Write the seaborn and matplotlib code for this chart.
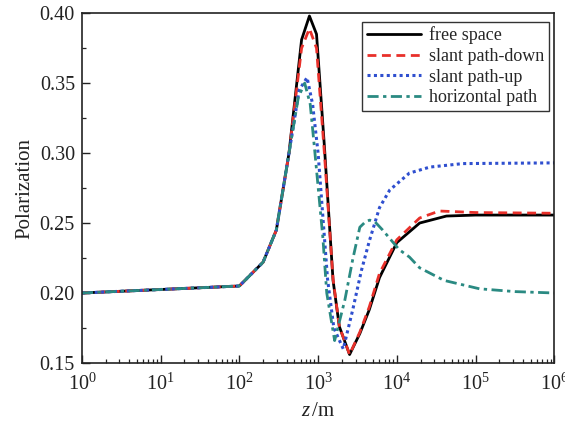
import numpy as np
import pandas as pd
import matplotlib
matplotlib.use("Agg")
import matplotlib.pyplot as plt
import seaborn as sns
from matplotlib.ticker import LogLocator, MultipleLocator, FixedLocator, NullFormatter

# ---- data ----
z_free = [1, 100, 200, 295, 427, 617, 776, 955, 1202, 1549, 1862, 2512, 3388, 4467, 6026, 10000, 19498, 42658, 100000, 1000000]
p_free = [0.200, 0.205, 0.222, 0.245, 0.300, 0.381, 0.398, 0.385, 0.305, 0.209, 0.176, 0.156, 0.171, 0.188, 0.211, 0.236, 0.250, 0.255, 0.2557, 0.2557]

z_down = [1, 100, 200, 295, 427, 617, 776, 955, 1202, 1549, 1862, 2512, 3388, 4467, 6026, 10000, 19498, 34674, 100000, 1000000]
p_down = [0.200, 0.205, 0.222, 0.245, 0.300, 0.375, 0.389, 0.375, 0.300, 0.210, 0.176, 0.156, 0.172, 0.190, 0.214, 0.238, 0.2536, 0.2586, 0.2575, 0.257]

z_up = [1, 100, 200, 295, 427, 575, 724, 851, 1000, 1318, 1585, 2089, 2754, 3548, 4467, 6026, 8128, 14454, 26303, 69183, 1000000]
p_up = [0.200, 0.205, 0.222, 0.245, 0.300, 0.345, 0.354, 0.335, 0.300, 0.210, 0.175, 0.160, 0.188, 0.216, 0.237, 0.261, 0.2736, 0.2857, 0.290, 0.2925, 0.293]

z_hor = [1, 100, 200, 295, 427, 562, 676, 794, 912, 1148, 1288, 1622, 2188, 2754, 3388, 3981, 4519, 5248, 6607, 10715, 14454, 19498, 39811, 112202, 316228, 1000000]
p_hor = [0.200, 0.205, 0.222, 0.245, 0.300, 0.340, 0.350, 0.335, 0.300, 0.240, 0.200, 0.166, 0.195, 0.224, 0.247, 0.2508, 0.2521, 0.251, 0.245, 0.231, 0.2257, 0.218, 0.209, 0.203, 0.201, 0.200]

labels = ["free space", "slant path-down", "slant path-up", "horizontal path"]
colors = ["#000000", "#e8302a", "#2f4fcf", "#2a8a82"]
dash_styles = [None, (3.2, 2.0), (1.0, 1.1), (4.0, 1.6, 1.2, 1.6)]
widths = [2.0, 2.0, 2.2, 2.0]

x_ticks = [1, 10, 100, 1000, 10000, 100000, 1000000]
x_ticklabels = [r"$10^{0}$", r"$10^{1}$", r"$10^{2}$", r"$10^{3}$", r"$10^{4}$", r"$10^{5}$", r"$10^{6}$"]
y_ticks = [0.15, 0.20, 0.25, 0.30, 0.35, 0.40]
y_ticklabels = ["0.15", "0.20", "0.25", "0.30", "0.35", "0.40"]

# ---- style ----
sns.set_style("ticks")
plt.rcParams["font.family"] = ["Liberation Serif", "DejaVu Serif"]
plt.rcParams["mathtext.fontset"] = "custom"
plt.rcParams["mathtext.rm"] = "Liberation Serif"
plt.rcParams["mathtext.it"] = "Liberation Serif:italic"

fig = plt.figure(figsize=(5.65, 4.25), dpi=100)
ax = fig.add_axes([0.145, 0.146, 0.836, 0.823])

series = [(z_free, p_free), (z_down, p_down), (z_up, p_up), (z_hor, p_hor)]
for (zs, ps), lab, col, ds, lw in zip(series, labels, colors, dash_styles, widths):
    df = pd.DataFrame({"z": zs, "p": ps})
    sns.lineplot(data=df, x="z", y="p", ax=ax, color=col, lw=lw, label=lab, sort=False)
    ln = ax.lines[-1]
    if ds is not None:
        ln.set_dashes(ds)

ax.set_xscale("log")
ax.set_xlim(1, 1e6)
ax.set_ylim(0.15, 0.40)
ax.xaxis.set_major_locator(FixedLocator(x_ticks))
ax.set_xticklabels(x_ticklabels)
ax.xaxis.set_minor_locator(LogLocator(base=10, subs=np.arange(2, 10), numticks=20))
ax.xaxis.set_minor_formatter(NullFormatter())
ax.yaxis.set_major_locator(FixedLocator(y_ticks))
ax.set_yticklabels(y_ticklabels)
ax.yaxis.set_minor_locator(MultipleLocator(0.025))

ax.tick_params(which="major", direction="in", length=6, width=1.0, labelsize=14.5, colors="#222222", labelcolor="#222222")
ax.tick_params(axis="x", which="major", pad=8)
ax.tick_params(axis="y", which="major", pad=5)
ax.tick_params(which="minor", direction="in", length=3, width=0.9, colors="#222222")
for s in ax.spines.values():
    s.set_linewidth(1.2)
    s.set_color("#222222")

ax.set_xlabel(r"$z\,$/m", fontsize=15, color="#222222", labelpad=5)
ax.set_ylabel("Polarization", fontsize=15, color="#222222", labelpad=4)

leg = ax.legend(loc="upper right", bbox_to_anchor=(0.988, 0.975), fontsize=13, frameon=True,
                fancybox=False, edgecolor="#333333", framealpha=1, handlelength=3.0,
                labelspacing=0.2, borderpad=0.25, handletextpad=0.45, borderaxespad=0.0)
leg.get_frame().set_linewidth(1.0)

fig.savefig("out.png", dpi=100)
